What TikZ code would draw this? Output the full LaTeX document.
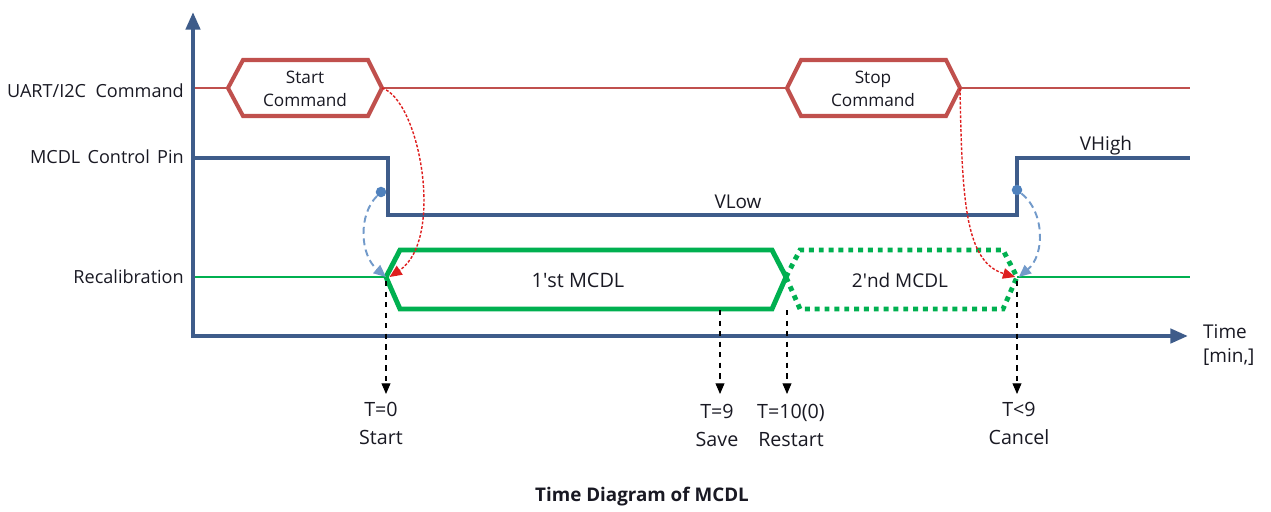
\documentclass[tikz,border=0pt]{standalone}
\usepackage{fontspec}
\setmainfont{Open Sans}
\usetikzlibrary{arrows.meta}
\definecolor{axisblue}{RGB}{62,92,138}
\definecolor{cmdred}{RGB}{192,80,77}
\definecolor{mcdlgreen}{RGB}{0,176,80}
\definecolor{dotblue}{RGB}{79,129,189}
\definecolor{linkred}{RGB}{222,30,30}
\definecolor{txt}{RGB}{25,25,35}
\begin{document}
\begin{tikzpicture}[x=0.02cm,y=-0.02cm,
  every node/.style={text=txt, font=\fontsize{9.8}{13.4}\selectfont},
  axis/.style={axisblue, line width=2.3pt, -{Triangle[length=10pt,width=8pt]}},
  cmdbox/.style={cmdred, line width=2.3pt, fill=white, line join=miter},
  cmdline/.style={cmdred, line width=0.6pt},
  pinline/.style={axisblue, line width=2.3pt},
  recline/.style={mcdlgreen, line width=0.7pt},
  mcdlbox/.style={mcdlgreen, line width=2.8pt},
  mcdlnext/.style={mcdlgreen, line width=2.8pt, dash pattern=on 2.8pt off 2.8pt},
  siglabel/.style={anchor=east, font=\fontsize{10.3}{12}\selectfont},
  biglabel/.style={font=\fontsize{10.8}{12}\selectfont},
  timelabel/.style={align=center, anchor=north, font=\fontsize{11.2}{16}\selectfont},
  tickarrow/.style={black, line width=0.6pt, dashed, -{Triangle[length=6pt,width=5pt]}},
  cmdlink/.style={linkred, line width=0.8pt, dash pattern=on 1.6pt off 1pt, -{Triangle[length=7pt,width=6pt]}},
  pinlink/.style={dotblue!80, line width=1.1pt, dash pattern=on 4pt off 2.5pt, -{Triangle[length=7pt,width=6pt]}},
  pindot/.style={circle, fill=dotblue, inner sep=0pt, minimum size=6pt}]
\useasboundingbox (0,0) rectangle (1271,511);

% signal names
\node[siglabel] (uart) at (190,91) {UART/I2C\ \ Command};
\node[siglabel] (pin) at (190,157) {MCDL\hspace{0.4em}Control\hspace{0.4em}Pin};
\node[siglabel] (rec) at (190,277) {Recalibration};

% thin signal lines
\draw[cmdline] (193,88) -- (1190,88);
\draw[recline] (193,277) -- (386,277);
\draw[recline] (1017,277) -- (1190,277);

% control pin
\draw[pinline] (193,158) -- (388,158) -- (388,215) -- (1017,215) -- (1017,158) -- (1190,158);
\node[biglabel] (vlow) at (738,202) {VLow};
\node[biglabel] (vhigh) at (1106,146) {VHigh};

% commands
\coordinate (sc-w) at (228,88);
\coordinate (sc-e) at (382,88);
\draw[cmdbox] (sc-w) -- (243,60) -- (368,60) -- (sc-e) -- (368,116) -- (243,116) -- cycle;
\node[align=center] (start) at (305,89) {Start\\Command};
\coordinate (tc-w) at (787,88);
\coordinate (tc-e) at (960,88);
\draw[cmdbox] (tc-w) -- (801,60) -- (946,60) -- (tc-e) -- (946,116) -- (801,116) -- cycle;
\node[align=center] (stop) at (873,89) {Stop\\Command};

% recalibration runs
\coordinate (m1-w) at (386,277);
\coordinate (m1-e) at (786,277);
\coordinate (m2-e) at (1017,277);
\draw[mcdlbox] (m1-w) -- (400,250) -- (772,250) -- (m1-e) -- (772,309) -- (400,309) -- cycle;
\node[font=\fontsize{11.3}{12}\selectfont] (mcdl1) at (578,280) {1\textquotesingle st MCDL};
\draw[mcdlnext] (m1-e) -- (800,250) -- (1003,250) -- (m2-e) -- (1003,309) -- (800,309) -- cycle;
\node[biglabel] (mcdl2) at (900,280) {2\textquotesingle nd MCDL};

% axes
\draw[axis] (193,338) -- (193,12);
\draw[axis] (191,336) -- (1188,336);
\node[anchor=west, align=left, font=\fontsize{10.8}{13.6}\selectfont] (time) at (1197,345) {Time\\{[min,]}};

% time marks
\node[timelabel] (t0) at (381,396) {T=0\\Start};
\node[timelabel] (t9) at (717,398) {T=9\\Save};
\node[timelabel] (t10) at (791,398) {T=10(0)\\Restart};
\node[timelabel] (tc) at (1019,396) {T<9\\Cancel};
\coordinate (s0) at (386,281);
\coordinate (s9) at (720,310);
\coordinate (s10) at (787,310);
\coordinate (sc) at (1017,281);
\draw[tickarrow] (s0) -- (s0 |- 0,394);
\draw[tickarrow] (s9) -- (s9 |- 0,394);
\draw[tickarrow] (s10) -- (s10 |- 0,394);
\draw[tickarrow] (sc) -- (sc |- 0,394);

% links
\node[pindot] (p1) at (381,192) {};
\node[pindot] (p2) at (1017,190) {};
\draw[pinlink] (p1) .. controls (358,215) and (360,255) .. (m1-w);
\draw[pinlink] (p2) .. controls (1045,212) and (1045,255) .. ([xshift=1pt]m2-e);
\draw[cmdlink] (sc-e) .. controls (420,100) and (445,240) .. ([xshift=2pt]m1-w);
\draw[cmdlink] (tc-e) .. controls (962,200) and (965,262) .. ([xshift=-1pt]m2-e);

\node[font=\bfseries\fontsize{10.7}{12}\selectfont] (title) at (642,497) {Time Diagram of MCDL};
\end{tikzpicture}
\end{document}
